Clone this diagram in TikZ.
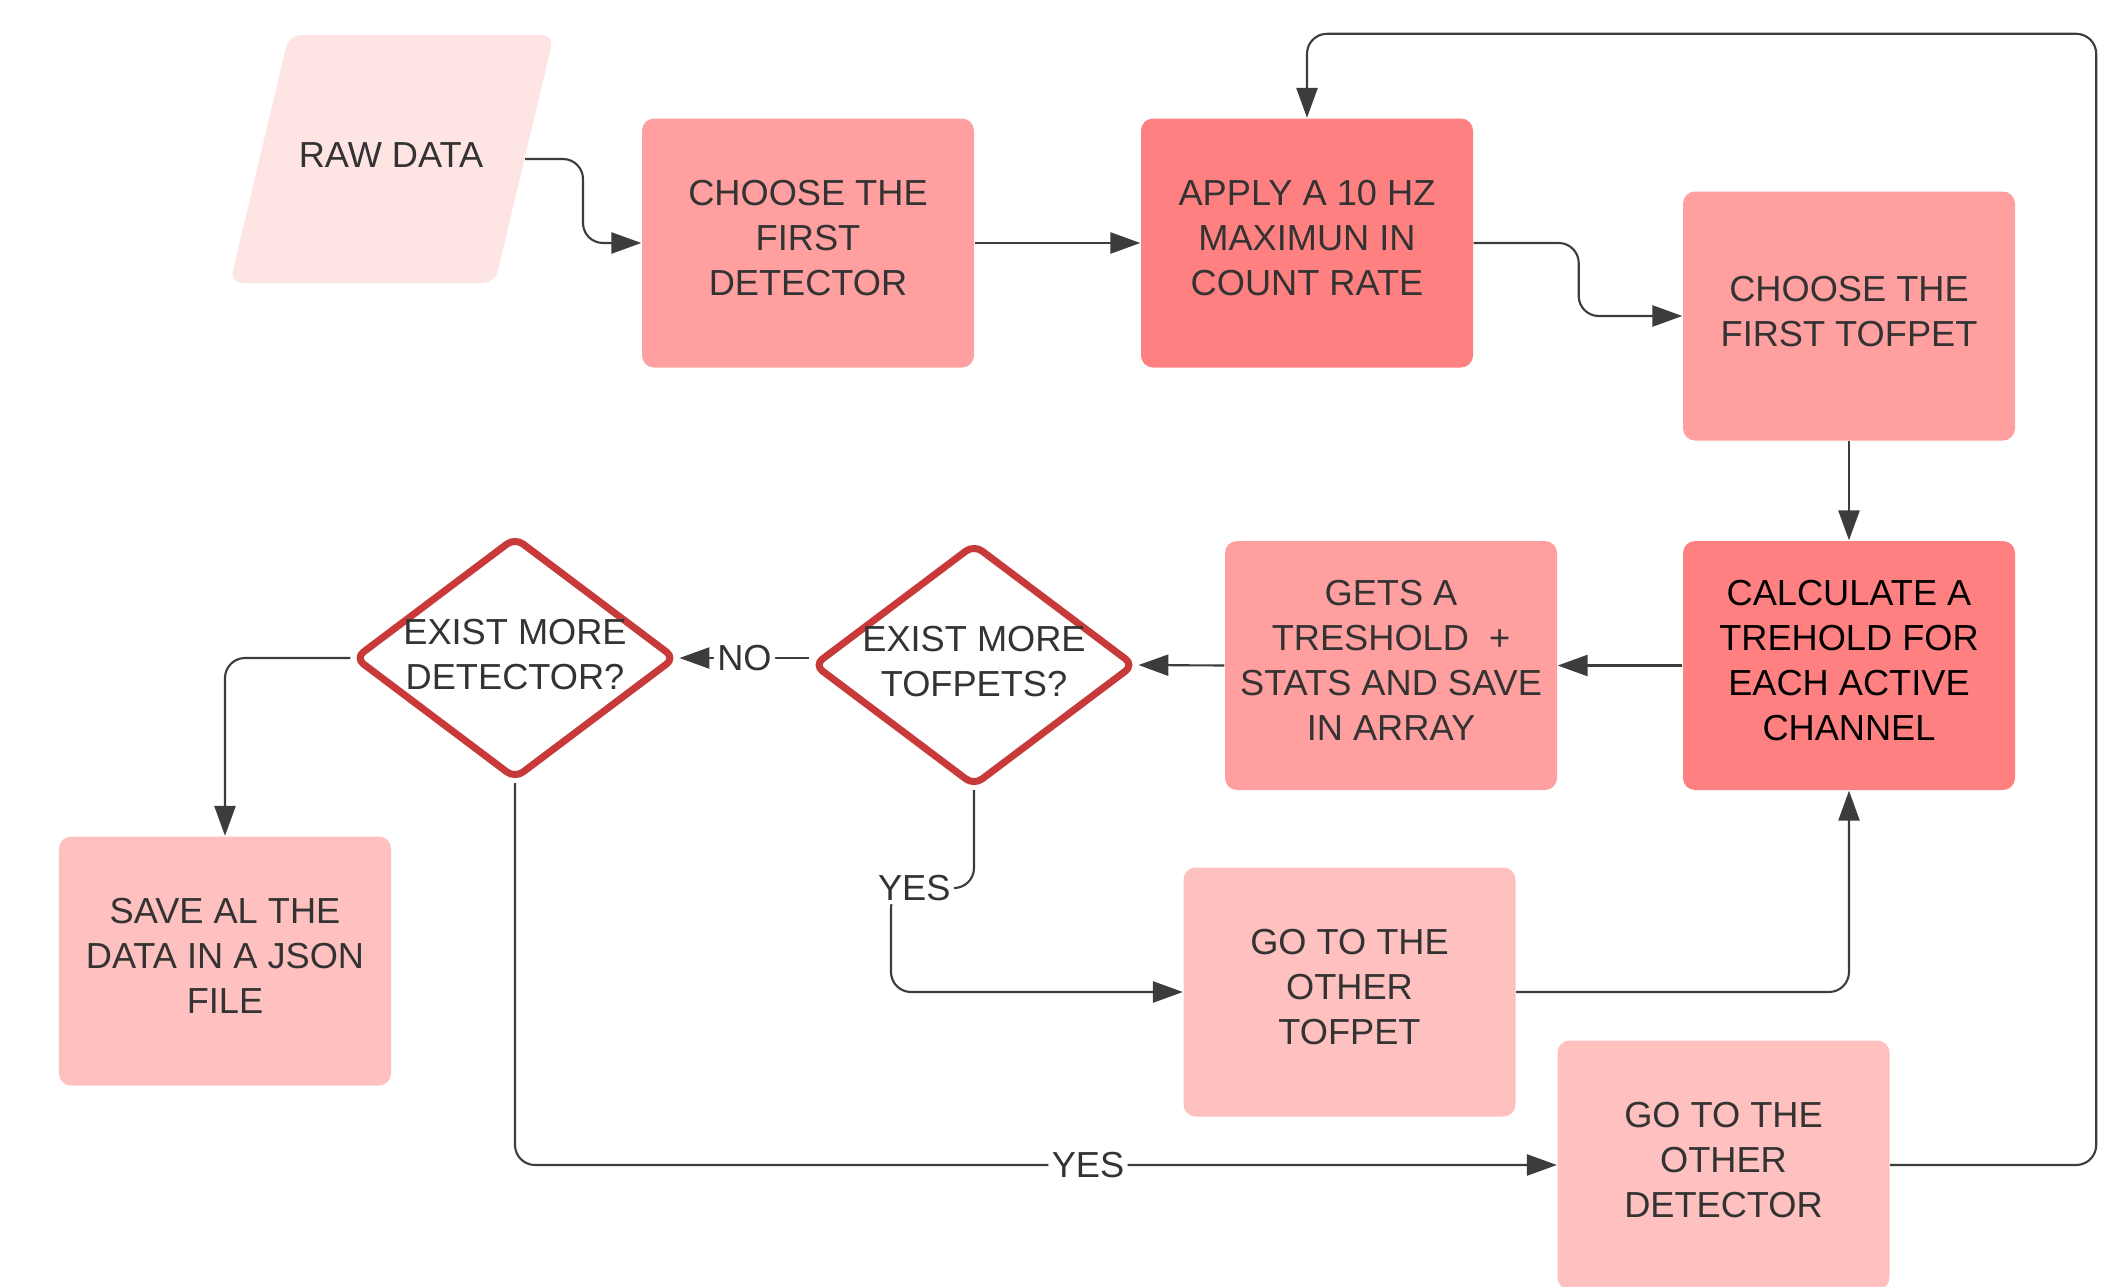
\documentclass[tikz,border=0pt]{standalone}
\usepackage{fontspec}
\setmainfont{Liberation Sans}
\usetikzlibrary{shapes.geometric, arrows.meta, positioning}
\definecolor{PinkLight}{HTML}{FFE4E4}
\definecolor{PinkMid}{HTML}{FF9F9F}
\definecolor{PinkDark}{HTML}{FF8080}
\definecolor{PinkSoft}{HTML}{FFC0C0}
\definecolor{DecRed}{HTML}{C8393A}
\definecolor{TxtGray}{HTML}{333333}
\definecolor{LineGray}{HTML}{3C3C3C}

\begin{document}
\begin{tikzpicture}[
			box/.style={rectangle, minimum height=2.49cm, minimum width=3.32cm, inner sep=0pt, text depth=0.1cm, align=center, rounded corners=0.12cm, text=TxtGray, font={\fontsize{10.3}{12.8}\selectfont}},
			decision/.style={diamond, draw=DecRed, line width=2pt, fill=white, minimum width=3.22cm, minimum height=2.43cm, inner sep=0pt, rounded corners=0.1cm},
			qtext/.style={align=center, text=TxtGray, text depth=0.08cm, font={\fontsize{10.3}{12.8}\selectfont}},
			lbl/.style={fill=white, inner sep=1pt, text=TxtGray, font={\fontsize{10.3}{12.8}\selectfont}},
			arrow/.style={-{Triangle[length=8.5pt, width=6pt]}, draw=LineGray, line width=0.6pt, rounded corners=0.2cm}
			]
			\useasboundingbox (0,0) rectangle (21.15,-12.87);
			
			% Nodes
			\fill[PinkLight, rounded corners=0.12cm] (2.89,-0.35) -- (5.54,-0.35) -- (4.95,-2.83) -- (2.30,-2.83) -- cycle;
			\node (raw) [text=TxtGray, font={\fontsize{10.3}{12.8}\selectfont}] at (3.91,-1.55) {RAW DATA};
			\coordinate (rawout) at (5.25,-1.59);
			\node (firstdet) [box, fill=PinkMid] at (8.08,-2.43) {CHOOSE THE\\FIRST\\DETECTOR};
			\node (rate) [box, fill=PinkDark] at (13.07,-2.43) {APPLY A 10 HZ\\MAXIMUN IN\\COUNT RATE};
			\node (firsttof) [box, fill=PinkMid] at (18.49,-3.16) {CHOOSE THE\\FIRST TOFPET};
			\node (calc) [box, fill=PinkDark, text=black] at (18.49,-6.655) {CALCULATE A\\TREHOLD FOR\\EACH ACTIVE\\CHANNEL};
			\node (stats) [box, fill=PinkMid] at (13.91,-6.655) {GETS A\\TRESHOLD\ \ +\\STATS AND SAVE\\IN ARRAY};
			\node (moretof) [decision, label={[qtext]center:EXIST MORE\\TOFPETS?}] at (9.74,-6.65) {};
			\node (moredet) [decision, label={[qtext]center:EXIST MORE\\DETECTOR?}] at (5.15,-6.58) {};
			\node (save) [box, fill=PinkSoft] at (2.25,-9.61) {SAVE AL THE\\DATA IN A JSON\\FILE};
			\node (othertof) [box, fill=PinkSoft] at (13.495,-9.92) {GO TO THE\\OTHER\\TOFPET};
			\node (otherdet) [box, fill=PinkSoft] at (17.235,-11.65) {GO TO THE\\OTHER\\DETECTOR};
			
			% Arrows
			\draw[arrow] (rawout) -- ++(0.58,0) |- (firstdet.west);
			\draw[arrow] (firstdet) -- (rate);
			\draw[arrow] (rate.east) -- ++(1.05,0) |- (firsttof.west);
			\draw[arrow] (firsttof) -- (calc);
			\draw[arrow] (calc) -- (stats);
			\draw[arrow] (stats.west) -- (moretof.east);
			\draw[arrow] (moredet.east -| moretof.west) -- node[lbl] {NO} (moredet.east);
			\draw[arrow] (moredet.west) -| (save.north);
			
			% Loops back
			\draw[arrow] (moretof.south) -- ++(0,-0.98) -- node[lbl, pos=0.72] {YES} ++(-0.83,0) |- (othertof.west);
			\draw[arrow] (moredet.south) |- node[lbl, pos=0.775] {YES} (otherdet.west);
			\draw[arrow] (othertof.east) -| (calc.south);
			\draw[arrow] (otherdet.east) -- ++(2.06,0) |- ([yshift=0.84cm]rate.north) -- (rate.north);
			
		\end{tikzpicture}
\end{document}
